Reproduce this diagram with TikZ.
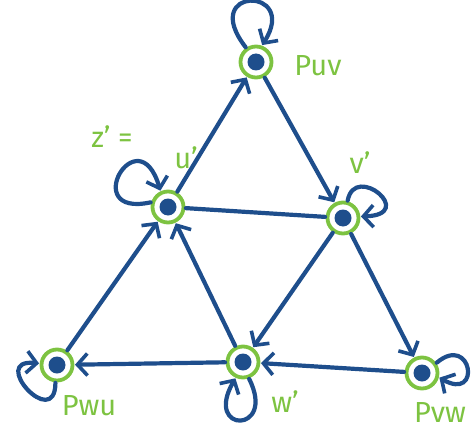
\documentclass[tikz,border=0pt]{standalone}
\usepackage{fontspec}
\setmainfont{Fira Sans}
\usetikzlibrary{arrows.meta}
\definecolor{cb}{RGB}{30,78,140}
\definecolor{cg}{RGB}{125,195,65}
\begin{document}
\begin{tikzpicture}[x=1pt,y=-1pt,
  st/.style={circle, draw=cg, line width=3.8pt, minimum size=31pt, inner sep=0pt, outer sep=2.5pt,
    path picture={\fill[cb] (path picture bounding box.center) circle (8.5pt);}},
  ln/.style={draw=cb, line width=4.2pt, line cap=round},
  ed/.style={ln, -{Straight Barb[length=10pt,width=22pt,line width=3.6pt]}},
  lab/.style={text=cg, font=\fontsize{29}{29}\selectfont, inner sep=0pt}]
\useasboundingbox (0,0) rectangle (473,433);
% nodes
\node[st] (puv) at (256,62) {};
\node[st] (u) at (168,207) {};
\node[st] (v) at (343,218) {};
\node[st] (pwu) at (57,365) {};
\node[st] (w) at (243,362) {};
\node[st] (pvw) at (422,373) {};
% edges
\draw[ed] (u) -- (puv);
\draw[ed] (puv) -- (v);
\draw[ln] (u) -- (v);
\draw[ed] (pwu) -- (u);
\draw[ed] (w) -- (u);
\draw[ed] (v) -- (w);
\draw[ed] (v) -- (pvw);
\draw[ed] (pvw) -- (w);
\draw[ed] (w) -- (pwu);
% loops
\draw[ed] (puv.125) .. controls (198,-14) and (300,-14) .. (puv.70);
\draw[ed] (u.165) .. controls (78,218) and (138,115) .. (u.115);
\draw[ed] (v.75) .. controls (355,162) and (418,215) .. (v.5);
\draw[ed] (pwu.-95) .. controls (55,432) and (-12,358) .. (pwu.175);
\draw[ed] (w.-70) .. controls (277,434) and (203,434) .. (w.-115);
\draw[ed] (pvw.35) .. controls (472,333) and (482,402) .. (pvw.-15);
% labels
\node[lab] (lpuv) at (318,66) {Puv};
\node[lab] (lz) at (112,137) {z' =};
\node[lab] (lu) at (186,158) {u'};
\node[lab] (lv) at (360,163) {v'};
\node[lab] (lpwu) at (89,406) {Pwu};
\node[lab] (lw) at (285,402) {w'};
\node[lab] (lpvw) at (440,413) {Pvw};
\end{tikzpicture}
\end{document}
